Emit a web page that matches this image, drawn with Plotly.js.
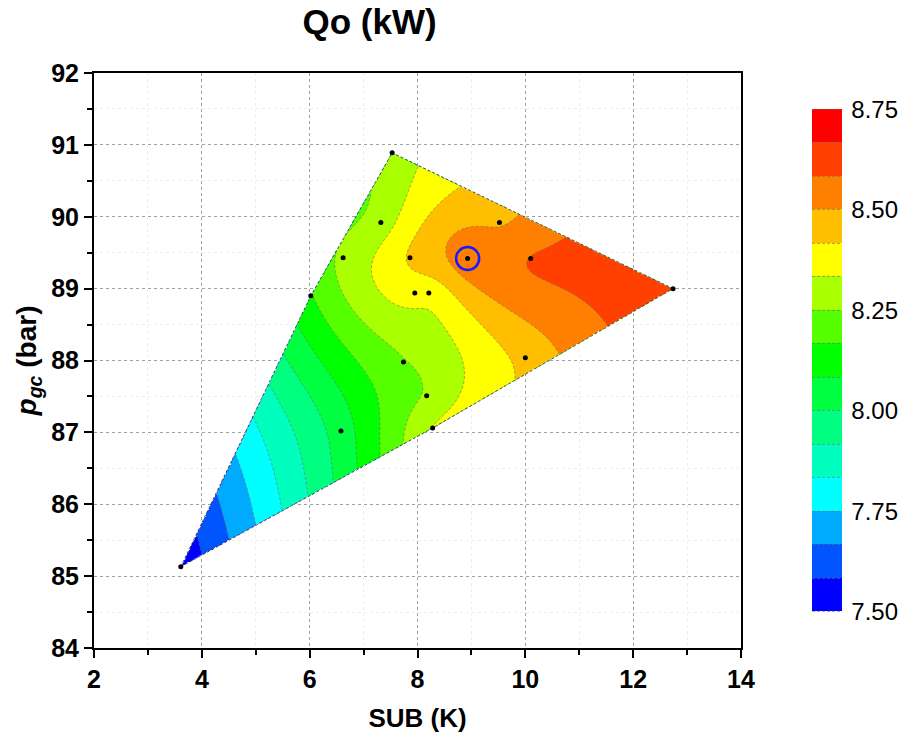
<!DOCTYPE html>
<html>
<head>
<meta charset="utf-8">
<script src="https://cdn.plot.ly/plotly-3.0.1.min.js"></script>
<style>html,body{margin:0;padding:0;background:#fff}</style>
</head>
<body>
<div id="chart" style="width:901px;height:737px"></div>
<script>
// Operating points: subcooling SUB (K), gas-cooler pressure p_gc (bar), cooling capacity Qo (kW)
const sub = [3.61, 7.53, 12.74, 6.02, 6.62, 7.32, 7.86, 7.95, 8.21, 8.93, 9.52, 10.10, 7.74, 10.00, 8.17, 6.58, 8.28];
const pgc = [85.13, 90.89, 89.00, 88.90, 89.43, 89.92, 89.43, 88.94, 88.94, 89.42, 89.92, 89.42, 87.98, 88.04, 87.51, 87.02, 87.06];
const qo  = [7.52, 8.28, 8.65, 8.16, 8.27, 8.29, 8.425, 8.37, 8.36, 8.55, 8.49, 8.585, 8.245, 8.44, 8.26, 8.04, 8.335];
const bestIndex = 9; // circled optimum

// contour levels and band colours (low -> high)
const levelStart = 7.5, levelEnd = 8.75, levelStep = 1 / 12;
const bandColors = ['#0000FF', '#0055FF', '#00AAFF', '#00FFFF', '#00FFBF', '#00FF80', '#00FF40', '#00FF00',
                    '#55FF00', '#AAFF00', '#FFFF00', '#FFBF00', '#FF8000', '#FF4000', '#FF0000'];
const colorbarTicks = [7.50, 7.75, 8.00, 8.25, 8.50, 8.75];

// plotting scale (px per unit / 100) so distances are isotropic on screen
const SX = 0.539, SY = 0.719;

// thin-plate spline through the scattered points
function fitTPS(px, py, pz) {
  const n = px.length, m = n + 3;
  const A = [], b = [];
  const phi = r => (r > 0 ? r * r * Math.log(r) : 0);
  for (let i = 0; i < n; i++) {
    const row = [];
    for (let j = 0; j < n; j++) row.push(phi(Math.hypot(px[i] - px[j], py[i] - py[j])));
    row.push(1, px[i], py[i]);
    A.push(row); b.push(pz[i]);
  }
  for (let k = 0; k < 3; k++) {
    const row = [];
    for (let j = 0; j < n; j++) row.push(k === 0 ? 1 : k === 1 ? px[j] : py[j]);
    row.push(0, 0, 0);
    A.push(row); b.push(0);
  }
  for (let c = 0; c < m; c++) {
    let p = c;
    for (let r = c + 1; r < m; r++) if (Math.abs(A[r][c]) > Math.abs(A[p][c])) p = r;
    [A[c], A[p]] = [A[p], A[c]]; [b[c], b[p]] = [b[p], b[c]];
    for (let r = c + 1; r < m; r++) {
      const f = A[r][c] / A[c][c];
      for (let k = c; k < m; k++) A[r][k] -= f * A[c][k];
      b[r] -= f * b[c];
    }
  }
  const w = new Array(m).fill(0);
  for (let r = m - 1; r >= 0; r--) {
    let s = b[r];
    for (let k = r + 1; k < m; k++) s -= A[r][k] * w[k];
    w[r] = s / A[r][r];
  }
  return (x, y) => {
    let s = w[n] + w[n + 1] * x + w[n + 2] * y;
    for (let j = 0; j < n; j++) s += w[j] * phi(Math.hypot(x - px[j], y - py[j]));
    return s;
  };
}

// convex hull (monotone chain), counter-clockwise
function convexHull(px, py) {
  const idx = px.map((_, i) => i).sort((a, b) => px[a] - px[b] || py[a] - py[b]);
  const cross = (o, a, b) => (px[a] - px[o]) * (py[b] - py[o]) - (py[a] - py[o]) * (px[b] - px[o]);
  const lower = [], upper = [];
  for (const i of idx) {
    while (lower.length >= 2 && cross(lower[lower.length - 2], lower[lower.length - 1], i) <= 0) lower.pop();
    lower.push(i);
  }
  for (const i of idx.slice().reverse()) {
    while (upper.length >= 2 && cross(upper[upper.length - 2], upper[upper.length - 1], i) <= 0) upper.pop();
    upper.push(i);
  }
  return lower.slice(0, -1).concat(upper.slice(0, -1));
}

const U = sub.map(v => v * SX), V = pgc.map(v => v * SY);
const surface = fitTPS(U, V, qo);
const hull = convexHull(U, V);

function insideHull(u, v) {
  for (let k = 0; k < hull.length; k++) {
    const a = hull[k], c = hull[(k + 1) % hull.length];
    const cr = (U[c] - U[a]) * (v - V[a]) - (V[c] - V[a]) * (u - U[a]);
    if (cr < -1e-4) return false;
  }
  return true;
}

// gridded surface for the contour trace, blank outside the data hull
const gx = [], gy = [], gz = [];
const x0 = Math.min(...sub) - 0.05, x1 = Math.max(...sub) + 0.05;
const y0 = Math.min(...pgc) - 0.05, y1 = Math.max(...pgc) + 0.05;
const NX = 320, NY = 300;
for (let i = 0; i < NX; i++) gx.push(x0 + (x1 - x0) * i / (NX - 1));
for (let j = 0; j < NY; j++) gy.push(y0 + (y1 - y0) * j / (NY - 1));
for (let j = 0; j < NY; j++) {
  const row = [];
  for (let i = 0; i < NX; i++) {
    const u = gx[i] * SX, v = gy[j] * SY;
    row.push(insideHull(u, v) ? surface(u, v) : null);
  }
  gz.push(row);
}

// stepped colour scale: one flat colour per contour band
const nBands = bandColors.length;
const colorscale = [];
bandColors.forEach((c, i) => {
  colorscale.push([i / nBands, c]);
  colorscale.push([(i + 1) / nBands, c]);
});

const hullX = hull.map(i => sub[i]).concat([sub[hull[0]]]);
const hullY = hull.map(i => pgc[i]).concat([pgc[hull[0]]]);

const sans = 'Liberation Sans, Arial, sans-serif';

const traces = [
  {
    type: 'contour', x: gx, y: gy, z: gz,
    connectgaps: false, autocontour: false,
    zmin: levelStart, zmax: levelEnd,
    contours: {start: levelStart, end: levelEnd, size: levelStep, coloring: 'fill', showlines: true},
    line: {color: 'rgba(110,110,110,0.8)', width: 0.8, dash: '3px,2px', smoothing: 0},
    colorscale: colorscale,
    hoverinfo: 'skip',
    colorbar: {
      x: 1.1097, xanchor: 'left', y: 0.5, yanchor: 'middle',
      len: 0.873, lenmode: 'fraction', thickness: 30, thicknessmode: 'pixels',
      xpad: 0, ypad: 0, outlinewidth: 0,
      ticks: 'outside', ticklen: 5, tickcolor: 'rgba(0,0,0,0)',
      tickvals: colorbarTicks, ticktext: colorbarTicks.map(v => v.toFixed(2)),
      tickfont: {family: sans, size: 24, color: '#000'}
    }
  },
  {
    type: 'scatter', mode: 'lines', x: hullX, y: hullY,
    line: {color: 'rgba(60,60,60,0.9)', width: 1, dash: '3px,2px'},
    hoverinfo: 'skip', showlegend: false
  },
  {
    type: 'scatter', mode: 'markers', x: sub, y: pgc,
    marker: {color: '#000', size: 5},
    showlegend: false
  },
  {
    type: 'scatter', mode: 'markers', x: [sub[bestIndex]], y: [pgc[bestIndex]],
    marker: {symbol: 'circle-open', size: 23, color: '#1a1aff', line: {width: 2.5, color: '#1a1aff'}},
    showlegend: false
  }
];

const tickFont = {family: sans, size: 25, color: '#000', weight: 'bold'};
const axisCommon = {
  showline: true, linewidth: 2, linecolor: '#000', mirror: true,
  ticks: 'outside', ticklen: 8, tickwidth: 2, tickcolor: '#000',
  showgrid: true, gridcolor: '#a0a0a0', gridwidth: 1, griddash: 'dot',
  zeroline: false, tickfont: tickFont
};

const layout = {
  width: 901, height: 737,
  margin: {l: 94, r: 160, t: 73, b: 89, autoexpand: false},
  paper_bgcolor: '#fff', plot_bgcolor: '#fff',
  showlegend: false,
  title: {
    text: 'Qo (kW)', x: 0.426, xref: 'paper', xanchor: 'center',
    y: 0.97, yref: 'container', yanchor: 'middle',
    font: {family: sans, size: 35, color: '#000', weight: 'bold'}
  },
  xaxis: Object.assign({}, axisCommon, {
    range: [2, 14], tick0: 2, dtick: 2,
    minor: {dtick: 1, ticks: 'outside', ticklen: 5, tickwidth: 2, tickcolor: '#000', showgrid: true, gridcolor: '#efefef', gridwidth: 1},
    title: {text: 'SUB (K)', standoff: 17, font: {family: sans, size: 26, color: '#000', weight: 'bold'}}
  }),
  yaxis: Object.assign({}, axisCommon, {
    range: [84, 92], tick0: 84, dtick: 1,
    minor: {dtick: 0.5, ticks: 'outside', ticklen: 5, tickwidth: 2, tickcolor: '#000', showgrid: true, gridcolor: '#efefef', gridwidth: 1},
    title: {text: '<b><i>p<sub>gc</sub></i> (bar)</b>', standoff: 6, font: {family: sans, size: 28, color: '#000', weight: 'bold'}}
  })
};

Plotly.newPlot('chart', traces, layout, {displayModeBar: false, staticPlot: true});
</script>
</body>
</html>
